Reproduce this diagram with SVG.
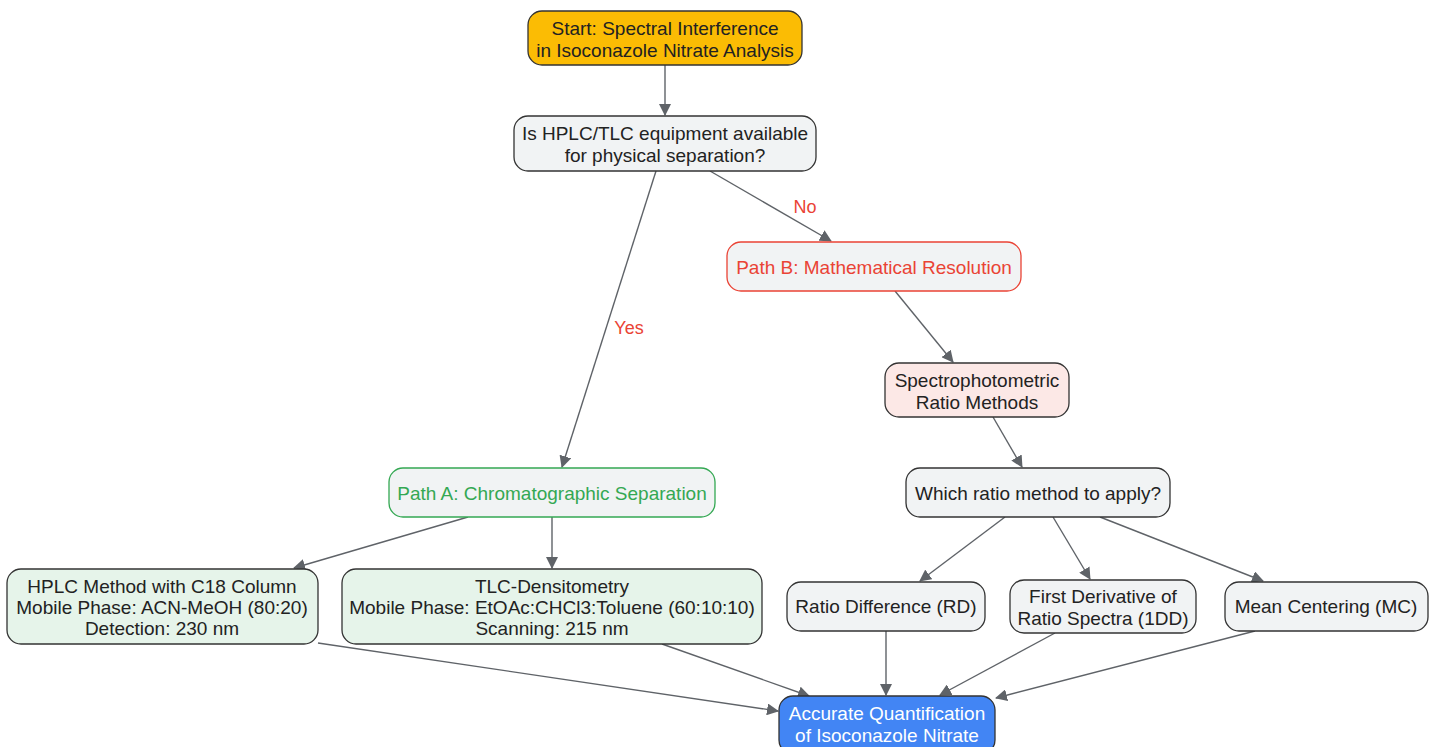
<svg xmlns="http://www.w3.org/2000/svg" width="1436" height="747" viewBox="0 0 1436 747">
<defs>
<marker id="ah" viewBox="0 0 12 12" refX="11" refY="6" markerWidth="12" markerHeight="12" markerUnits="userSpaceOnUse" orient="auto">
<path d="M0,0 L12,6 L0,12 Z" fill="#5F6368"/>
</marker>
<style>
text{font-family:"Liberation Sans",Arial,sans-serif;font-size:19px;text-anchor:middle;fill:#222}
.n{stroke:#333;stroke-width:1.3}
.g{fill:#F1F3F4}
.e line{stroke:#5F6368;stroke-width:1.4;marker-end:url(#ah)}
.lbl{fill:#EA4335;font-size:18px}
</style>
</defs>
<rect width="1436" height="747" fill="#fff"/>
<g class="e" id="connectors">
<line x1="665" y1="65" x2="665" y2="115"/>
<line x1="656" y1="171" x2="562" y2="467"/>
<line x1="710" y1="171" x2="831" y2="241"/>
<line x1="895" y1="291" x2="953" y2="362"/>
<line x1="993" y1="417" x2="1022" y2="467"/>
<line x1="468" y1="517" x2="294" y2="568"/>
<line x1="552" y1="517" x2="552" y2="568"/>
<line x1="1005" y1="517" x2="920" y2="581"/>
<line x1="1053" y1="517" x2="1090" y2="579"/>
<line x1="1100" y1="517" x2="1263" y2="581"/>
<line x1="318" y1="643" x2="778" y2="711"/>
<line x1="662" y1="644" x2="809" y2="696"/>
<line x1="886" y1="631" x2="886" y2="695"/>
<line x1="1055" y1="633" x2="940" y2="695"/>
<line x1="1255" y1="631" x2="996" y2="698"/>
<text class="lbl" x="629" y="334">Yes</text>
<text class="lbl" x="805" y="213">No</text>
</g>
<g id="start"><rect class="n" x="528" y="11" width="274" height="54" rx="14" fill="#FBBC04"/><text x="665" y="35">Start: Spectral Interference</text><text x="665" y="57">in Isoconazole Nitrate Analysis</text></g>
<g id="q1"><rect class="n g" x="514" y="116" width="302" height="55" rx="14"/><text x="665" y="140">Is HPLC/TLC equipment available</text><text x="665" y="162">for physical separation?</text></g>
<g id="pathB"><rect class="g" x="727" y="242" width="294" height="49" rx="14" stroke="#EA4335" stroke-width="1.3"/><text x="874" y="274" style="fill:#EA4335">Path B: Mathematical Resolution</text></g>
<g id="spectro"><rect class="n" x="885" y="363" width="184" height="54" rx="14" fill="#FCE8E6"/><text x="977" y="387">Spectrophotometric</text><text x="977" y="409">Ratio Methods</text></g>
<g id="which"><rect class="n g" x="906" y="468" width="264" height="49" rx="14"/><text x="1038" y="500">Which ratio method to apply?</text></g>
<g id="pathA"><rect class="g" x="389" y="468" width="326" height="49" rx="14" stroke="#34A853" stroke-width="1.3"/><text x="552" y="500" style="fill:#34A853">Path A: Chromatographic Separation</text></g>
<g id="hplc"><rect class="n" x="7" y="569" width="311" height="75" rx="14" fill="#E6F4EA"/><text x="162" y="593">HPLC Method with C18 Column</text><text x="162" y="614">Mobile Phase: ACN-MeOH (80:20)</text><text x="162" y="635">Detection: 230 nm</text></g>
<g id="tlc"><rect class="n" x="342" y="569" width="420" height="75" rx="14" fill="#E6F4EA"/><text x="552" y="593">TLC-Densitometry</text><text x="552" y="614">Mobile Phase: EtOAc:CHCl3:Toluene (60:10:10)</text><text x="552" y="635">Scanning: 215 nm</text></g>
<g id="rd"><rect class="n g" x="787" y="582" width="198" height="49" rx="14"/><text x="886" y="613">Ratio Difference (RD)</text></g>
<g id="dd"><rect class="n g" x="1010" y="580" width="186" height="53" rx="14"/><text x="1103" y="603">First Derivative of</text><text x="1103" y="625">Ratio Spectra (1DD)</text></g>
<g id="mc"><rect class="n g" x="1225" y="582" width="203" height="49" rx="14"/><text x="1326" y="613">Mean Centering (MC)</text></g>
<g id="final"><rect class="n" x="779" y="696" width="216" height="58" rx="14" fill="#4285F4"/><text x="887" y="720" style="fill:#fff">Accurate Quantification</text><text x="887" y="742" style="fill:#fff">of Isoconazole Nitrate</text></g>
</svg>
